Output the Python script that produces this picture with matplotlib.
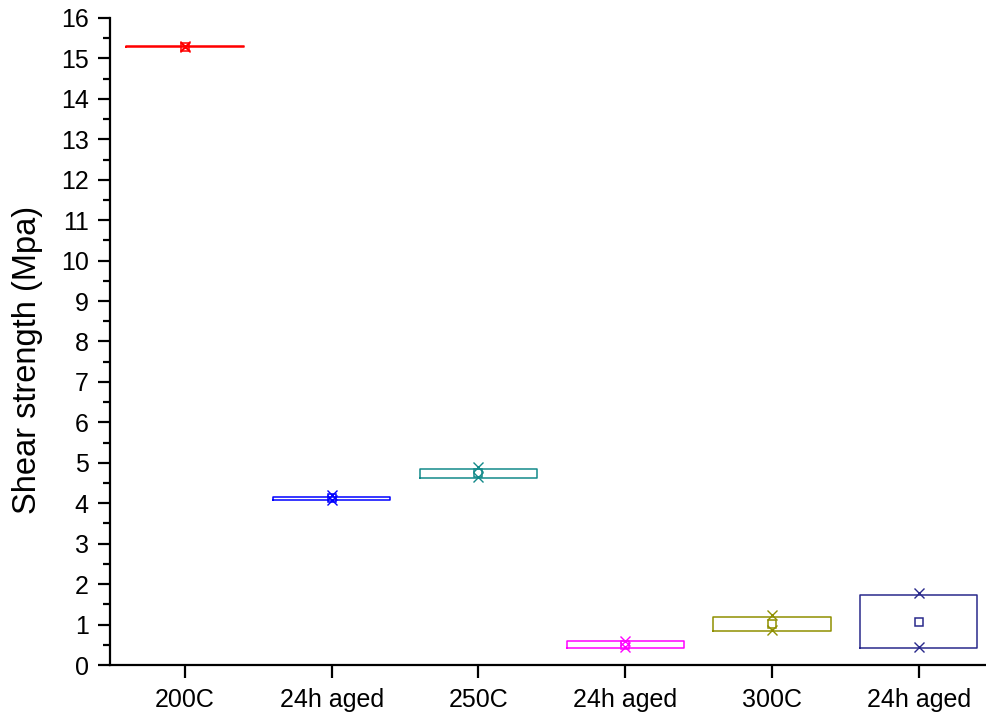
import matplotlib
matplotlib.use("Agg")
import matplotlib.pyplot as plt
from matplotlib.ticker import MultipleLocator

plt.rcParams['font.family'] = ['Liberation Sans', 'DejaVu Sans']

# Sample groups and their shear-strength statistics (MPa)
categories = ["200C", "24h aged", "250C", "24h aged", "300C", "24h aged"]
q1_vals = [15.29, 4.08, 4.62, 0.43, 0.84, 0.43]
q3_vals = [15.30, 4.15, 4.85, 0.59, 1.19, 1.74]
mean_vals = [15.29, 4.12, 4.75, 0.49, 1.02, 1.07]
min_vals = [15.28, 4.07, 4.66, 0.44, 0.87, 0.45]
max_vals = [15.30, 4.20, 4.90, 0.60, 1.24, 1.77]
colors = ["#ff0000", "#0000ff", "#138a8a", "#ff00ff", "#8f8f00", "#2a2a8c"]

fig = plt.figure(figsize=(9.87, 7.19), dpi=100)
ax = fig.add_axes([0.1115, 0.0751, 0.8885, 0.8999])

positions = list(range(1, len(categories) + 1))
for pos, q1, q3, mn, lo, hi, c in zip(positions, q1_vals, q3_vals, mean_vals,
                                      min_vals, max_vals, colors):
    stats = [{
        "q1": q1, "q3": q3, "med": mn, "mean": mn,
        "whislo": q1, "whishi": q3, "fliers": [lo, hi],
    }]
    ax.bxp(stats, positions=[pos], widths=0.8, showmeans=True, showcaps=False,
           showfliers=True,
           boxprops=dict(color=c, linewidth=1.1),
           medianprops=dict(linewidth=0),
           whiskerprops=dict(linewidth=0),
           meanprops=dict(marker="s", markerfacecolor="none", markeredgecolor=c,
                          markersize=6, markeredgewidth=1.1),
           flierprops=dict(marker="x", markeredgecolor=c, markersize=7,
                           markeredgewidth=1.0))

ax.set_xlim(0.49, 6.465)
ax.set_ylim(0, 16)
ax.set_xticks(positions)
ax.set_xticklabels(categories)
ax.yaxis.set_major_locator(MultipleLocator(1))
ax.yaxis.set_minor_locator(MultipleLocator(0.5))

for side in ("top", "right"):
    ax.spines[side].set_visible(False)
for side in ("left", "bottom"):
    ax.spines[side].set_linewidth(1.6)

ax.tick_params(axis="both", which="major", direction="out", length=9,
               width=1.6, labelsize=18)
ax.tick_params(axis="x", which="major", pad=7.5)
ax.tick_params(axis="y", which="major", pad=6.5)
ax.tick_params(axis="y", which="minor", direction="out", length=5, width=1.6)
ax.tick_params(axis="x", which="minor", bottom=False)

ax.set_ylabel("Shear strength (Mpa)", fontsize=23.5)
ax.yaxis.set_label_coords(-0.076, 0.471)

fig.savefig("out.png", dpi=100)
